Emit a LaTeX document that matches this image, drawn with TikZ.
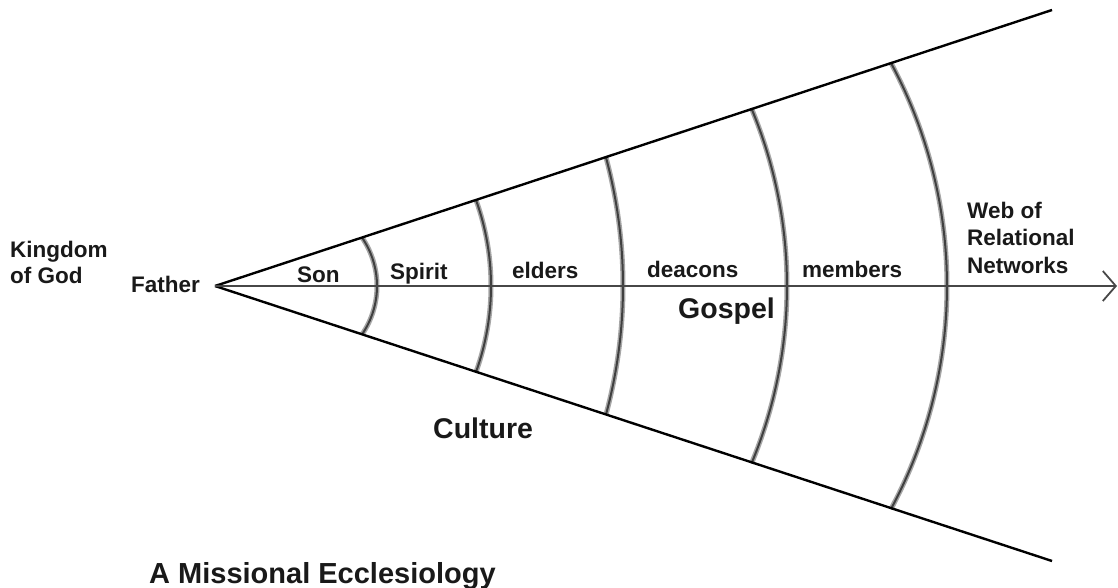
\documentclass[tikz,border=0pt]{standalone}
\usepackage{fontspec}
\setmainfont{Liberation Sans}
\usetikzlibrary{arrows.meta}
\begin{document}
\begin{tikzpicture}[x=1pt,y=-1pt,
  lab/.style={inner sep=0pt, anchor=base west, font=\fontsize{22.5}{26}\selectfont\bfseries, text=black!90},
  big/.style={lab, font=\fontsize{28.5}{32}\selectfont\bfseries},
  cone/.style={line width=2.4pt, black},
  axisline/.style={line width=1.7pt, black!72},
  halo/.style={line width=5pt, black!35},
  core/.style={line width=2pt, black!75}]
\useasboundingbox (0,0) rectangle (1118,588);
% cone
\coordinate (apex) at (215,286);
\coordinate (topend) at (1052,10);
\coordinate (botend) at (1052,561);
\coordinate (axend) at (1117,286);
% arcs: crossing x on the axis / radius / half angle
\foreach \mx/\r/\t in {377/85.9/34.4, 491/254/19.8, 623/494.2/15.07, 787/461.5/22.6, 947/472/28.2}{
  \draw[halo] (\mx-\r,286) ++(-\t:\r) arc[start angle=-\t, end angle=\t, radius=\r];
  \draw[core] (\mx-\r,286) ++(-\t:\r) arc[start angle=-\t, end angle=\t, radius=\r];
}
\draw[cone] (apex) -- (topend);
\draw[cone] (apex) -- (botend);
\draw[axisline, -{Straight Barb[length=13pt,width=30pt,line width=1.8pt]}] (apex) -- (axend);
% labels
\node[lab] (kg1) at (10,257) {Kingdom};
\node[lab] (kg2) at (10,283) {of God};
\node[lab, anchor=base east] (father) at (200,292) {Father};
\node[lab] (son) at (297,282) {Son};
\node[lab] (spirit) at (390,279) {Spirit};
\node[lab] (elders) at (512,278) {elders};
\node[lab] (deacons) at (647,277) {deacons};
\node[lab] (members) at (802,277) {members};
\node[lab] (web1) at (967,218) {Web of};
\node[lab] (web2) at (967,245) {Relational};
\node[lab] (web3) at (967,273) {Networks};
\node[big] (gospel) at (678,318) {Gospel};
\node[big] (culture) at (433,438) {Culture};
\node[big, font=\fontsize{29}{32}\selectfont\bfseries] (title) at (149,583) {A Missional Ecclesiology};
\end{tikzpicture}
\end{document}
